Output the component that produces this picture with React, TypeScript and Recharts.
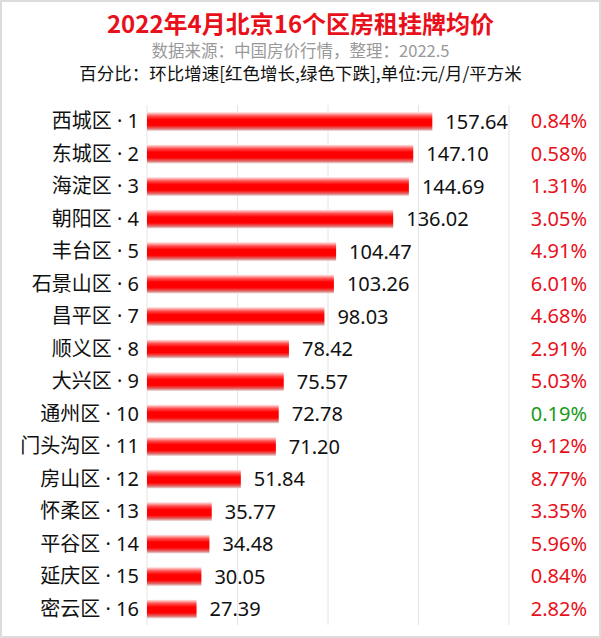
import { Bar, BarChart, CartesianGrid, LabelList, XAxis, YAxis } from "recharts";

const districts = [
  "西城区", "东城区", "海淀区", "朝阳区", "丰台区", "石景山区", "昌平区", "顺义区",
  "大兴区", "通州区", "门头沟区", "房山区", "怀柔区", "平谷区", "延庆区", "密云区",
];
const rents = [
  157.64, 147.1, 144.69, 136.02, 104.47, 103.26, 98.03, 78.42,
  75.57, 72.78, 71.2, 51.84, 35.77, 34.48, 30.05, 27.39,
];
const changes = [
  0.84, 0.58, 1.31, 3.05, 4.91, 6.01, 4.68, 2.91,
  5.03, -0.19, 9.12, 8.77, 3.35, 5.96, 0.84, 2.82,
];
const xTicks = [0, 50, 100, 150, 200];

const data = districts.map((d, i) => ({
  name: `${d} · ${i + 1}`,
  rent: rents[i],
  change: changes[i],
}));

const font = '"Noto Sans CJK SC", "Noto Sans", sans-serif';
const labelFont = '"Noto Sans", "Noto Sans CJK SC", sans-serif';

function PctTick(props: any) {
  const { x, y, payload } = props;
  const row = data.find((r) => r.name === payload.value);
  const c = row ? row.change : 0;
  return (
    <text
      x={x + 70}
      y={y}
      dy={7}
      textAnchor="end"
      fontSize={20}
      fontFamily={labelFont}
      fill={c < 0 ? "#1a9a1a" : "#e8101a"}
    >
      {Math.abs(c).toFixed(2)}%
    </text>
  );
}

export default function App() {
  return (
    <div
      style={{
        position: "absolute",
        left: 0,
        top: 0,
        width: 601,
        height: 638,
        background: "#fff",
        border: "2px solid #dcdcdc",
        boxSizing: "border-box",
        fontFamily: font,
      }}
    >
      <div style={{ position: "absolute", top: 5, left: 0, width: 597, textAlign: "center", color: "#e8101a", fontSize: 24, fontWeight: 700, lineHeight: "32px" }}>
        2022年4月北京16个区房租挂牌均价
      </div>
      <div style={{ position: "absolute", top: 37, left: 0, width: 597, textAlign: "center", color: "#999", fontSize: 16.5, lineHeight: "22px" }}>
        数据来源：中国房价行情，整理：2022.5
      </div>
      <div style={{ position: "absolute", top: 60, left: 0, width: 597, textAlign: "center", color: "#111", fontSize: 17.5, lineHeight: "22px" }}>
        百分比：环比增速[红色增长,绿色下跌],单位:元/月/平方米
      </div>
      <div style={{ position: "absolute", left: -2, top: -2 }}>
        <BarChart
          width={601}
          height={638}
          data={data}
          layout="vertical"
          margin={{ top: 105, right: 0, bottom: 13, left: 7 }}
          barCategoryGap={0}
        >
          <defs>
            <linearGradient id="barFill" x1="0" y1="0" x2="0" y2="1">
              <stop offset="0%" stopColor="#fff2f2" />
              <stop offset="22%" stopColor="#ff4a4a" />
              <stop offset="40%" stopColor="#ff0000" />
              <stop offset="70%" stopColor="#ff0000" />
              <stop offset="88%" stopColor="#e07070" />
              <stop offset="100%" stopColor="#eee6e6" />
            </linearGradient>
          </defs>
          <CartesianGrid horizontal={false} stroke="#e4e4e4" />
          <XAxis type="number" domain={[0, 200]} ticks={xTicks} hide />
          <YAxis
            yAxisId="left"
            type="category"
            dataKey="name"
            width={140}
            axisLine={false}
            tickLine={false}
            tick={{ fontSize: 20, fill: "#111", fontFamily: labelFont }}
            interval={0}
          />
          <YAxis
            yAxisId="right"
            orientation="right"
            type="category"
            dataKey="name"
            width={92}
            axisLine={false}
            tickLine={false}
            tick={<PctTick />}
            interval={0}
          />
          <Bar yAxisId="left" dataKey="rent" fill="url(#barFill)" barSize={19} isAnimationActive={false}>
            <LabelList
              dataKey="rent"
              position="right"
              offset={13}
              formatter={(v: any) => Number(v).toFixed(2)}
              style={{ fontSize: 20, fill: "#111", fontFamily: labelFont }}
            />
          </Bar>
        </BarChart>
      </div>
    </div>
  );
}
